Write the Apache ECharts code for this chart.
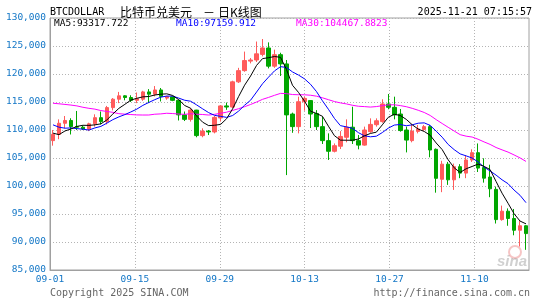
<!DOCTYPE html>
<html>
<head>
<meta charset="utf-8">
<script src="https://cdn.jsdelivr.net/npm/echarts@6/dist/echarts.min.js"></script>
<style>html,body{margin:0;padding:0;background:#fff}#c{width:545px;height:300px}</style>
</head>
<body>
<div id="c"></div>
<script>
// Dates (2025-09-01 .. 2025-11-19), one candle per day
const dates = [
'09-01','09-02','09-03','09-04','09-05','09-06','09-07','09-08','09-09','09-10',
'09-11','09-12','09-13','09-14','09-15','09-16','09-17','09-18','09-19','09-20',
'09-21','09-22','09-23','09-24','09-25','09-26','09-27','09-28','09-29','09-30',
'10-01','10-02','10-03','10-04','10-05','10-06','10-07','10-08','10-09','10-10',
'10-11','10-12','10-13','10-14','10-15','10-16','10-17','10-18','10-19','10-20',
'10-21','10-22','10-23','10-24','10-25','10-26','10-27','10-28','10-29','10-30',
'10-31','11-01','11-02','11-03','11-04','11-05','11-06','11-07','11-08','11-09',
'11-10','11-11','11-12','11-13','11-14','11-15','11-16','11-17','11-18','11-19'];

const opens = [
108100,109230,111200,111700,110600,110500,110200,111100,112200,111500,
114000,115500,116100,115800,115300,115500,116800,116400,117150,115700,
115900,115300,112700,111900,113550,109000,109800,109650,112150,114300,
114100,118600,120600,122300,122500,123500,124650,121400,123450,121800,
112850,110600,115050,115250,112950,110600,108100,106200,107100,108700,
110500,108100,107300,109700,110950,111500,114650,114050,112850,110000,
108100,109750,110100,110600,106550,101200,103900,101100,103450,102300,
104650,105950,103300,101600,99400,94000,95500,94200,92100,92900];
const closes = [
109230,111200,111700,110600,110500,110200,111100,112200,111500,114000,
115500,116100,115800,115300,115600,116800,116400,117150,116000,115950,
115300,112700,111900,113550,109000,109800,109650,112250,114300,114100,
118600,120600,122400,122500,123600,124650,121400,123450,121800,112700,
110600,115050,115650,112850,110600,108100,106200,107200,108850,110500,
108100,107300,110000,111000,111650,114650,114050,112700,109900,108200,
109800,110200,110600,106430,101370,103900,101100,103450,102300,104650,
105950,103200,101400,99500,94000,95500,94200,92100,92900,91500];
const lows = [
107200,108350,110300,109200,110000,110000,109800,110600,111000,111000,
113500,114800,115300,115000,114800,115200,114800,116000,115100,115400,
115150,111700,111600,111500,108700,108700,109100,109400,111500,113600,
113900,118400,120400,121900,122150,123150,121000,121100,119650,101950,
109500,109400,113450,110350,110000,107500,104650,106000,106600,107800,
107500,106550,107200,109500,110600,111300,113700,111900,109700,106000,
107800,109400,109850,105120,98810,98900,100200,99300,101400,101400,
104300,102500,100600,98000,93300,93800,92900,91200,89200,88600];
const highs = [
110000,111900,112500,112100,113400,110800,111300,112800,113300,114300,
115700,116800,116200,116200,116700,117000,117300,117850,117500,116100,
116000,115400,113300,113900,113600,110300,110000,112500,114450,114900,
118800,121100,124000,122850,125800,126250,125650,124350,123800,122500,
113100,115950,115950,115350,113550,112400,109400,107600,109800,111900,
114150,109100,110600,112080,112080,115480,116430,115950,113750,110600,
111000,110900,110900,110900,106700,104500,104300,104000,103900,105500,
106550,107600,104950,103800,99900,96500,96000,95900,93800,93000];
// Closes before the window (08-03 .. 08-31), estimated so the MA lines start where the picture shows
const priorCloses = [
114200,115050,114100,115000,117500,116700,116500,119300,118700,120200,
123300,118400,117400,117500,117400,116300,112900,114300,112500,116900,
115400,113500,110100,111800,111200,112600,108400,108800,108200];

const yTicks = {min: 85000, max: 130000, step: 5000};
const legendTexts = ['MA5:93317.722', 'MA10:97159.912', 'MA30:104467.8823'];

const allCloses = priorCloses.concat(closes);
function ma(n) {
  const out = [];
  for (let i = 0; i < closes.length; i++) {
    const idx = i + priorCloses.length;
    if (idx - n + 1 < 0) { out.push('-'); continue; }
    let s = 0;
    for (let k = idx - n + 1; k <= idx; k++) s += allCloses[k];
    out.push(+(s / n).toFixed(3));
  }
  return out;
}
const candles = opens.map((o, i) => [o, closes[i], lows[i], highs[i]]);

const mono = '"DejaVu Sans Mono", "Liberation Mono", monospace';
const blue = '#1276c6';
const chart = echarts.init(document.getElementById('c'), null, {renderer: 'canvas'});
chart.setOption({
  animation: false,
  backgroundColor: '#ffffff',
  grid: {left: 50, right: 16, top: 18, bottom: 30, show: true, borderColor: '#a0a0a0', borderWidth: 1},
  xAxis: [{
    type: 'category', data: dates, boundaryGap: true, position: 'bottom', show: false
  }, {
    type: 'category', data: dates, boundaryGap: false, position: 'bottom',
    axisLine: {lineStyle: {color: '#a0a0a0', width: 1}},
    axisTick: {show: false},
    axisLabel: {interval: 13, color: blue, fontFamily: mono, fontSize: 9.5, margin: 5, hideOverlap: false},
    splitLine: {show: true, interval: 13, lineStyle: {color: '#b4b4b4', type: [1, 2], width: 1}}
  }],
  yAxis: {
    type: 'value', min: yTicks.min, max: yTicks.max, interval: yTicks.step, scale: true,
    axisLine: {show: true, lineStyle: {color: '#a0a0a0', width: 1}},
    axisTick: {show: false},
    axisLabel: {color: blue, fontFamily: mono, fontSize: 9.5, margin: 4},
    splitLine: {show: true, lineStyle: {color: '#b4b4b4', type: [1, 2], width: 1}}
  },
  series: [{
    type: 'candlestick', xAxisIndex: 0, data: candles, barWidth: 4,
    itemStyle: {color: '#ff5b5b', color0: '#00a600', borderColor: '#ff5b5b', borderColor0: '#00a600', borderWidth: 1}
  }, {
    type: 'line', xAxisIndex: 0, data: ma(30), showSymbol: false, symbol: 'none',
    lineStyle: {color: '#ff00ff', width: 1}, z: 3
  }, {
    type: 'line', xAxisIndex: 0, data: ma(10), showSymbol: false, symbol: 'none',
    lineStyle: {color: '#0000ff', width: 1}, z: 4
  }, {
    type: 'line', xAxisIndex: 0, data: ma(5), showSymbol: false, symbol: 'none',
    lineStyle: {color: '#000000', width: 1}, z: 5
  }],
  graphic: [
    {type: 'text', x: 50, y: 12, style: {text: 'BTCDOLLAR', font: '10px ' + mono, fill: '#000', verticalAlign: 'middle'}},
    {type: 'text', x: 120, y: 12, style: {text: '比特币兑美元', font: '12px "Noto Sans CJK SC"', fill: '#000', verticalAlign: 'middle'}},
    {type: 'text', x: 203, y: 12, style: {text: '－', font: '12px "Noto Sans CJK SC"', fill: '#000', verticalAlign: 'middle'}},
    {type: 'text', x: 218, y: 12, style: {text: '日K线图', font: '12px "Noto Sans CJK SC"', fill: '#000', verticalAlign: 'middle'}},
    {type: 'text', x: 532, y: 12, style: {text: '2025-11-21 07:15:57', font: '10px ' + mono, fill: '#000', align: 'right', verticalAlign: 'middle'}},
    {type: 'text', x: 54, y: 24, style: {text: legendTexts[0], font: '9.5px ' + mono, fill: '#000', verticalAlign: 'middle'}, z: 100},
    {type: 'text', x: 176, y: 24, style: {text: legendTexts[1], font: '9.5px ' + mono, fill: '#0000ff', verticalAlign: 'middle'}, z: 100},
    {type: 'text', x: 296, y: 24, style: {text: legendTexts[2], font: '9.5px ' + mono, fill: '#ff00ff', verticalAlign: 'middle'}, z: 100},
    {type: 'text', x: 50, y: 293, style: {text: 'Copyright 2025 SINA.COM', font: '10px ' + mono, fill: '#666', verticalAlign: 'middle'}},
    {type: 'text', x: 530, y: 293, style: {text: 'http://finance.sina.com.cn', font: '10px ' + mono, fill: '#666', align: 'right', verticalAlign: 'middle'}},
    {type: 'circle', shape: {cx: 515, cy: 252, r: 6}, style: {fill: 'none', stroke: 'rgba(230,90,90,0.35)', lineWidth: 2}, z: 1},
    {type: 'text', x: 527, y: 262, style: {text: 'sina', font: 'italic bold 15px "Liberation Sans", Arial', fill: 'rgba(150,150,150,0.45)', align: 'right', verticalAlign: 'middle'}, z: 1}
  ]
});
</script>
</body>
</html>
